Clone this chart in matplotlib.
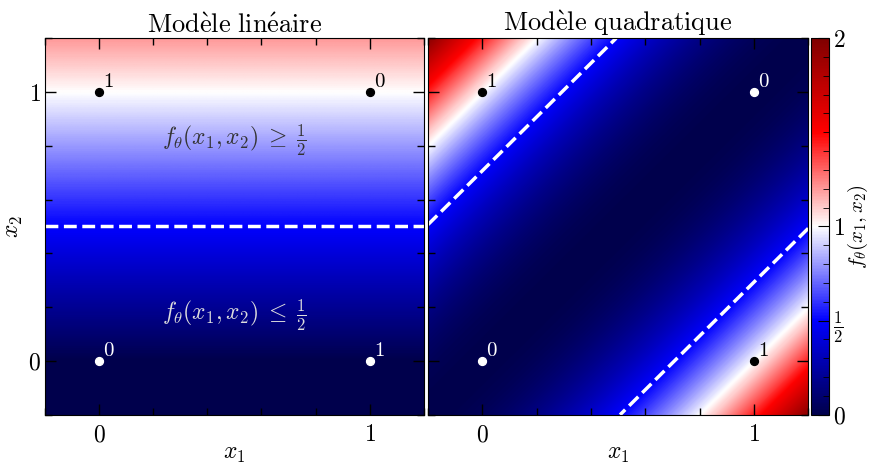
import numpy as np
import matplotlib
matplotlib.use('Agg')
import matplotlib.pyplot as plt
from matplotlib.ticker import MultipleLocator

plt.rcParams['mathtext.fontset'] = 'cm'
plt.rcParams['font.family'] = 'serif'

# XOR points and their labels
pts_x1 = [0, 0, 1, 1]
pts_x2 = [0, 1, 0, 1]
pts_lab = [0, 1, 1, 0]

titles = [r"$\mathrm{Mod\`ele\ lin\'eaire}$", r"$\mathrm{Mod\`ele\ quadratique}$"]
lo, hi = -0.2, 1.2
cb_ticks = [0, 0.5, 1, 2]
cb_labels = [r'$0$', r'$\frac{1}{2}$', r'$1$', r'$2$']


def f_lin(x1, x2):
    return x2


def f_quad(x1, x2):
    return (x1 - x2) ** 2


models = [f_lin, f_quad]

g = np.linspace(lo, hi, 400)
X1, X2 = np.meshgrid(g, g)

fig = plt.figure(figsize=(8.7, 4.65), dpi=100)
ax_l = fig.add_axes([0.052, 0.108, 0.435, 0.810])
ax_r = fig.add_axes([0.492, 0.108, 0.437, 0.810])
cax = fig.add_axes([0.9325, 0.108, 0.0205, 0.810])

for k, (ax, f) in enumerate(zip([ax_l, ax_r], models)):
    Z = f(X1, X2)
    im = ax.imshow(Z, origin='lower', extent=[lo, hi, lo, hi], cmap='seismic',
                   vmin=0, vmax=2, aspect='auto', interpolation='bilinear')
    ax.contour(X1, X2, Z, levels=[0.5], colors='white', linestyles='--',
               linewidths=2.5)
    for a, b, l in zip(pts_x1, pts_x2, pts_lab):
        c = 'black' if f(a, b) >= 0.5 else 'white'
        ax.scatter([a], [b], s=32, color=c, zorder=5)
        ax.text(a + 0.015, b + 0.005, r'$%d$' % l, color=c, fontsize=15,
                ha='left', va='bottom', zorder=5)
    ax.set_xlim(lo, hi)
    ax.set_ylim(lo, hi)
    ax.set_xticks([0, 1])
    ax.set_xticklabels([r'$0$', r'$1$'])
    ax.set_yticks([0, 1])
    ax.xaxis.set_minor_locator(MultipleLocator(0.2))
    ax.yaxis.set_minor_locator(MultipleLocator(0.2))
    ax.tick_params(which='both', direction='in', top=True, right=True,
                   labelsize=17)
    ax.tick_params(axis='x', pad=6)
    ax.tick_params(axis='y', pad=3)
    ax.tick_params(which='major', length=8, width=1)
    ax.tick_params(which='minor', length=5, width=1)
    ax.set_xlabel(r'$x_1$', fontsize=17, labelpad=-3)
    ax.set_title(titles[k], fontsize=19, pad=2)
    if k == 0:
        ax.set_yticklabels([r'$0$', r'$1$'])
        ax.set_ylabel(r'$x_2$', fontsize=17, labelpad=2)
    else:
        ax.set_yticklabels([])

ax_l.text(0.5, 0.82, r'$f_\theta(x_1, x_2)\;\geq\;\frac{1}{2}$', color='#333333',
          fontsize=17, ha='center', va='center')
ax_l.text(0.5, 0.17, r'$f_\theta(x_1, x_2)\;\leq\;\frac{1}{2}$', color='#dddddd',
          fontsize=17, ha='center', va='center')

cb = fig.colorbar(im, cax=cax)
cb.set_ticks(cb_ticks)
cb.set_ticklabels(cb_labels)
cb.ax.yaxis.set_minor_locator(MultipleLocator(0.1))
cb.ax.tick_params(which='both', direction='in', labelsize=17, pad=3)
cb.ax.tick_params(which='major', length=8)
cb.ax.tick_params(which='minor', length=4)
cb.set_label(r'$f_\theta(x_1, x_2)$', fontsize=15, labelpad=0)

fig.savefig('out.png', dpi=100)
